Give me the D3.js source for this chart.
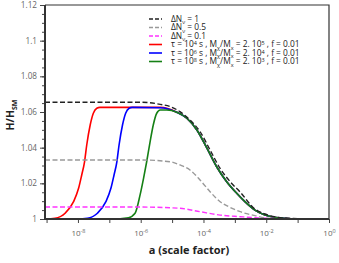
<!DOCTYPE html>
<html>
<head>
<meta charset="utf-8">
<script src="https://cdn.jsdelivr.net/npm/d3@7"></script>
<style>
  body { margin: 0; background: #fff; }
  text { font-family: "Open Sans", "DejaVu Sans", sans-serif; }
</style>
</head>
<body>
<div class="chart"></div>
<script>
// values: log10(a) and H/H_SM
var dn1Exp = [-9.05, -6.02, -5.38, -5.06, -4.75, -4.43, -4.11, -3.79, -3.47, -3.15, -2.83, -2.36, -2.04, -1.56, -0.92, 0];
var dn1Val = [1.0655, 1.0655, 1.0643, 1.0630, 1.0602, 1.0555, 1.0490, 1.0387, 1.0284, 1.0209, 1.0151, 1.0056, 1.0028, 1.0008, 1.0002, 1.0];

var dn05Exp = [-9.05, -6.02, -5.06, -4.75, -4.43, -4.11, -3.79, -3.47, -3.15, -2.83, -2.36, -1.94, -0.92, 0];
var dn05Val = [1.0331, 1.0331, 1.0321, 1.0303, 1.0275, 1.0219, 1.0153, 1.0097, 1.0065, 1.0041, 1.0019, 1.0004, 1.0, 1.0];

var dn01Exp = [-9.05, -6.02, -4.75, -4.11, -3.47, -2.83, -2.36, -1.94, -0.92, 0];
var dn01Val = [1.0067, 1.0067, 1.0060, 1.0041, 1.0022, 1.0013, 1.0007, 1.0004, 1.0, 1.0];

var redExp = [-9.05, -8.73, -8.41, -8.14, -7.98, -7.88, -7.79, -7.72, -7.61, -7.51, -7.40, -7.30, -5.38, -4.85, -4.53, -4.21, -3.89, -3.58, -3.26, -2.94, -2.68, -2.36, -2.04, -1.62, -0.87, 0];
var redVal = [1.0, 1.0004, 1.0032, 1.0097, 1.0172, 1.0247, 1.0321, 1.0415, 1.0527, 1.0593, 1.0621, 1.0626, 1.0626, 1.0599, 1.0565, 1.0499, 1.0397, 1.0293, 1.0209, 1.0144, 1.0097, 1.0050, 1.0022, 1.0007, 1.0, 1.0];

var blueExp = [-9.05, -8.0, -7.70, -7.38, -7.11, -6.95, -6.85, -6.76, -6.69, -6.58, -6.48, -6.37, -6.27, -5.38, -4.85, -4.53, -4.21, -3.89, -3.58, -3.26, -2.94, -2.68, -2.36, -2.04, -1.62, -0.87, 0];
var blueVal = [1.0, 1.0, 1.0004, 1.0032, 1.0097, 1.0172, 1.0247, 1.0321, 1.0415, 1.0527, 1.0593, 1.0621, 1.0626, 1.0624, 1.0599, 1.0565, 1.0499, 1.0397, 1.0293, 1.0209, 1.0144, 1.0097, 1.0050, 1.0022, 1.0007, 1.0, 1.0];

var greenExp = [-9.05, -6.92, -6.39, -6.18, -6.02, -5.91, -5.81, -5.70, -5.60, -5.49, -5.38, -5.17, -4.85, -4.53, -4.21, -3.89, -3.58, -3.26, -2.94, -2.68, -2.36, -2.04, -1.62, -0.87, 0];
var greenVal = [1.0, 1.0, 1.0007, 1.0032, 1.0135, 1.0228, 1.0321, 1.0434, 1.0527, 1.0593, 1.0611, 1.0611, 1.0599, 1.0565, 1.0499, 1.0397, 1.0293, 1.0209, 1.0144, 1.0097, 1.0050, 1.0022, 1.0007, 1.0, 1.0];

var yTicks = [1, 1.02, 1.04, 1.06, 1.08, 1.1, 1.12];
var xTickExp = [-8, -6, -4, -2, 0];
var xMinorExp = [-9, -7, -5, -3, -1];

var margin = {top: 5, right: 10, bottom: 44, left: 45},
    width = 339 - margin.left - margin.right,
    height = 263 - margin.top - margin.bottom;

var svg = d3.select(".chart")
  .append("svg")
    .attr("width", 339)
    .attr("height", 263)
  .append("g")
    .attr("transform", "translate(" + margin.left + "," + margin.top + ")");

var x = d3.scaleLog()
  .domain([Math.pow(10, -9.05), 1])
  .range([0, width]);

var y = d3.scaleLinear()
  .domain([1, 1.12])
  .range([height, 0]);

svg.append("clipPath").attr("id", "clip")
  .append("rect").attr("width", width).attr("height", height);

// y axis: majors with labels, minors every 0.005
var yMinor = d3.range(0, 25).map(function(i) { return 1 + i * 0.005; });
svg.append("g")
  .call(d3.axisLeft(y).tickValues(yMinor).tickSize(3).tickFormat(""))
  .call(function(g) { g.select(".domain").remove(); })
  .selectAll("line").attr("stroke", "#444");
var yAx = svg.append("g")
  .call(d3.axisLeft(y).tickValues(yTicks).tickSize(5).tickPadding(3)
    .tickFormat(function(d) { return +d.toFixed(2); }));
yAx.select(".domain").remove();
yAx.selectAll("line").attr("stroke", "#444");
yAx.selectAll("text").attr("fill", "#666").style("font-size", "8.2px");

// x axis: decades, labels on even powers
svg.append("g")
  .attr("transform", "translate(0," + height + ")")
  .call(d3.axisBottom(x).tickValues(xMinorExp.map(function(e) { return Math.pow(10, e); })).tickSize(4).tickFormat(""))
  .call(function(g) { g.select(".domain").remove(); })
  .selectAll("line").attr("stroke", "#444");
var xAx = svg.append("g")
  .attr("transform", "translate(0," + height + ")")
  .call(d3.axisBottom(x).tickValues(xTickExp.map(function(e) { return Math.pow(10, e); })).tickSize(4).tickFormat(""));
xAx.select(".domain").remove();
xAx.selectAll("line").attr("stroke", "#444");
xAx.selectAll(".tick").append("text")
  .attr("y", 17)
  .attr("text-anchor", "middle")
  .attr("fill", "#666")
  .style("font-size", "8px")
  .each(function(d) {
    var t = d3.select(this);
    t.append("tspan").text("10");
    t.append("tspan").attr("dy", -3).style("font-size", "5.5px").text(Math.round(Math.log10(d)));
  });

// curves
var line = d3.line()
  .x(function(d) { return x(Math.pow(10, d[0])); })
  .y(function(d) { return y(d[1]); })
  .curve(d3.curveMonotoneX);

function zip(a, b) { return a.map(function(v, i) { return [v, b[i]]; }); }

var series = [
  {name: "red", exp: redExp, val: redVal, color: "#ff0000", dash: null},
  {name: "blue", exp: blueExp, val: blueVal, color: "#0000ff", dash: null},
  {name: "green", exp: greenExp, val: greenVal, color: "#158015", dash: null},
  {name: "dn01", exp: dn01Exp, val: dn01Val, color: "#ff33ff", dash: "5,2.5"},
  {name: "dn05", exp: dn05Exp, val: dn05Val, color: "#999999", dash: "5,2.5"},
  {name: "dn1", exp: dn1Exp, val: dn1Val, color: "#222222", dash: "5,2.5"}
];

svg.append("g").attr("clip-path", "url(#clip)")
  .selectAll("path")
  .data(series)
  .enter()
  .append("path")
    .attr("d", function(s) { return line(zip(s.exp, s.val)); })
    .attr("fill", "none")
    .attr("stroke", function(s) { return s.color; })
    .attr("stroke-width", function(s) { return s.dash ? 1.4 : 1.6; })
    .attr("stroke-dasharray", function(s) { return s.dash; });

// frame
svg.append("path")
  .attr("d", "M0,0H" + width + "V" + height)
  .attr("fill", "none").attr("stroke", "#333").attr("stroke-width", 1.2);
svg.append("path")
  .attr("d", "M0,0V" + height + "H" + width)
  .attr("fill", "none").attr("stroke", "#333").attr("stroke-width", 2);

// axis titles
svg.append("text")
  .attr("x", width / 2 + 2)
  .attr("y", height + 35)
  .attr("text-anchor", "middle")
  .attr("fill", "#222")
  .style("font-size", "11px")
  .style("font-weight", "bold")
  .text("a (scale factor)");

var yt = svg.append("text")
  .attr("transform", "translate(" + (-31) + "," + (110) + ") rotate(-90)")
  .attr("text-anchor", "middle")
  .attr("fill", "#222")
  .style("font-size", "10.5px")
  .style("font-weight", "bold");
yt.append("tspan").text("H/H");
yt.append("tspan").attr("dy", 2.5).style("font-size", "7px").text("SM");

// legend
var legendRows = [
  {color: "#222222", dash: "4,2", parts: [["ΔN", 0], ["ν", 1], [" = 1", 0]]},
  {color: "#999999", dash: "4,2", parts: [["ΔN", 0], ["ν", 1], [" = 0.5", 0]]},
  {color: "#ff33ff", dash: "4,2", parts: [["ΔN", 0], ["ν", 1], [" = 0.1", 0]]},
  {color: "#ff0000", dash: null, parts: [["τ = 10", 0], ["4", -1], [" s , M", 0], ["χ", 1], ["/M", 0], ["x", 1], [" = 2. 10", 0], ["5", -1], [" , f = 0.01", 0]]},
  {color: "#0000ff", dash: null, parts: [["τ = 10", 0], ["6", -1], [" s , M", 0], ["χ", 1], ["/M", 0], ["x", 1], [" = 2. 10", 0], ["4", -1], [" , f = 0.01", 0]]},
  {color: "#158015", dash: null, parts: [["τ = 10", 0], ["8", -1], [" s , M", 0], ["χ", 1], ["/M", 0], ["x", 1], [" = 2. 10", 0], ["3", -1], [" , f = 0.01", 0]]}
];

var leg = svg.append("g").attr("transform", "translate(" + (149 - margin.left) + "," + (19 - margin.top) + ")");
var rows = leg.selectAll("g").data(legendRows).enter().append("g")
  .attr("transform", function(d, i) { return "translate(0," + (i * 8.5) + ")"; });
rows.append("line")
  .attr("x1", 0).attr("x2", 13)
  .attr("stroke", function(d) { return d.color; })
  .attr("stroke-width", 1.6)
  .attr("stroke-dasharray", function(d) { return d.dash; });
rows.append("text")
  .attr("x", 22)
  .attr("y", 2.8)
  .attr("fill", "#222")
  .style("font-size", "8.4px")
  .each(function(d) {
    var t = d3.select(this), shift = 0;
    d.parts.forEach(function(p) {
      var dy = (p[1] - shift) * 2.3;
      shift = p[1];
      t.append("tspan").attr("dy", dy).style("font-size", p[1] ? "5.5px" : "8.4px").text(p[0]);
    });
  });
</script>
</body>
</html>
